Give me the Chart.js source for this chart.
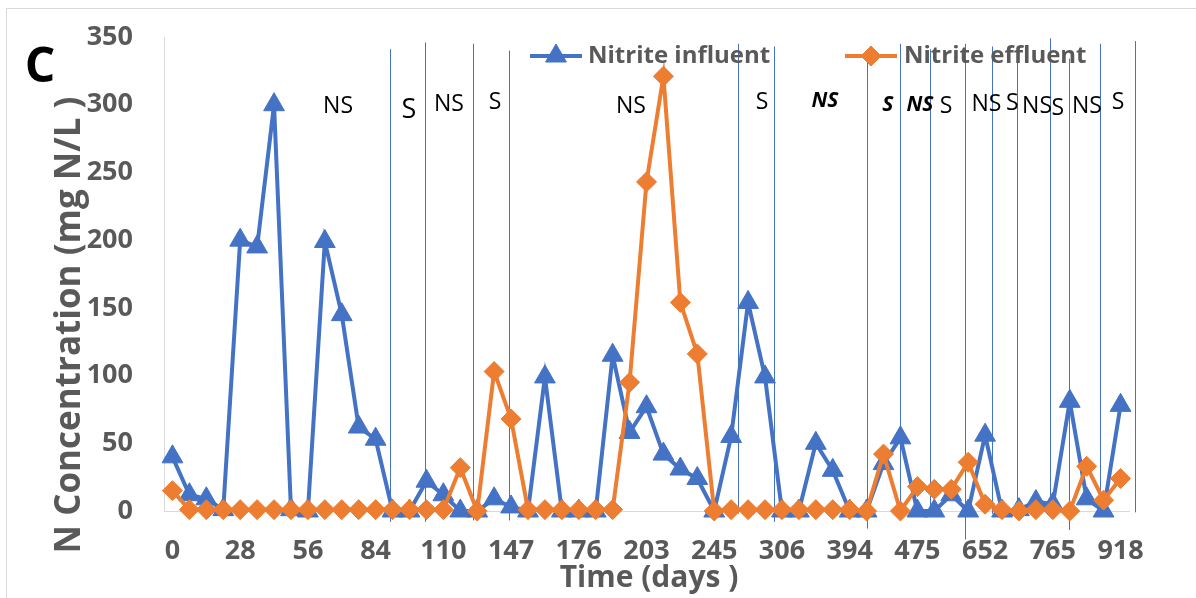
<!DOCTYPE html>
<html><head><meta charset="utf-8">
<script src="https://cdn.jsdelivr.net/npm/chart.js@4.4.1/dist/chart.umd.min.js"></script>
<style>html,body{margin:0;padding:0;background:#fff;overflow:hidden}#wrap{width:1196px;height:598px;position:relative}</style>
</head><body><div id="wrap"><canvas id="c" width="1196" height="598"></canvas></div>
<script>
// ---- data ----
const tickLabels = ['0','28','56','84','110','147','176','203','245','306','394','475','652','765','918'];
const influent = [40,12,9,1,200,195,300,1,0,199,145,62,53,0,0,22,12,0,0,9,3,0,99,0,0,0,115,58,77,42,31,24,0,55,154,99,0,0,50,30,0,0,35,54,0,0,12,0,56,0,1,7,5,81,9,0,78];
const effluent = [15,1,1,1,1,1,1,1,1,1,1,1,1,1,1,1,1,32,0,103,68,1,1,1,1,1,1,95,243,321,154,116,0,1,1,1,1,1,1,1,1,0,42,0,18,16,16,36,5,1,0,1,1,0,33,8,24];
// phase boundaries (category index, top value, bottom value)
const boundaryIdx = [12.82,14.90,17.73,19.88,33.40,35.51,41.02,42.97,44.74,46.81,48.38,49.88,51.83,52.95,54.79,56.85];
const boundaryTop = [341,346,345,340,345,343,336,345,341,345,343,341,349,334,345,347];
const boundaryBottom = [-8,-8,-7,-7,-2,-8,-13,-3,-1,-21,-2,-1,1,-14,1,-1];
// phase labels (text, category index, value)
const phaseText = ['NS','S','NS','S','NS','S','NS','S','NS','S','NS','S','NS','S','NS','S'];
const phaseIdx = [9.78,13.97,16.33,19.05,27.08,34.82,38.54,42.26,44.15,45.69,48.08,49.6,51.07,52.3,54.02,55.85];
const phaseVal = [299,296,300,302,299,302,303,300,300,299,300,301,299,297,299,302];
const phaseEmph = [false,false,false,false,false,false,true,true,true,false,false,false,false,false,false,false];

const categories = influent.map((_, i) => (i % 4 === 0 ? tickLabels[i / 4] : ''));

const BLUE = '#4472C4', ORANGE = '#ED7D31', GREY = '#595959';
const FONT = "'Open Sans', 'DejaVu Sans', sans-serif";

const decor = {
  id: 'decor',
  beforeDraw(chart) {
    const ctx = chart.ctx;
    ctx.save();
    ctx.fillStyle = '#fff';
    ctx.fillRect(0, 0, chart.width, chart.height);
    ctx.strokeStyle = '#d9d9d9';
    ctx.lineWidth = 1;
    ctx.strokeRect(6.5, 8.5, 1400, 800);
    ctx.restore();
  },
  beforeDatasetsDraw(chart) {
    const ctx = chart.ctx, xs = chart.scales.x, ys = chart.scales.y;
    ctx.save();
    ctx.strokeStyle = BLUE;
    ctx.lineWidth = 1;
    boundaryIdx.forEach((b, i) => {
      const px = Math.round(xs.getPixelForValue(b)) + 0.5;
      ctx.beginPath();
      ctx.moveTo(px, ys.getPixelForValue(boundaryTop[i]));
      ctx.lineTo(px, ys.getPixelForValue(boundaryBottom[i]));
      ctx.stroke();
    });
    ctx.fillStyle = '#000';
    ctx.textAlign = 'center';
    ctx.textBaseline = 'middle';
    phaseText.forEach((t, i) => {
      ctx.font = phaseEmph[i] ? `italic bold 21px ${FONT}` : (i === 1 ? `27px ${FONT}` : `23px ${FONT}`);
      ctx.fillText(t, xs.getPixelForValue(phaseIdx[i]), ys.getPixelForValue(phaseVal[i]));
    });
    ctx.restore();
  },
  afterDraw(chart) {
    const ctx = chart.ctx;
    const legendPos = [{x: 530, tx: 588}, {x: 845, tx: 904}];
    const order = [1, 0];
    ctx.save();
    order.forEach((di, k) => {
      const d = chart.data.datasets[di];
      const p = legendPos[k], y = 56;
      ctx.strokeStyle = d.borderColor;
      ctx.lineWidth = 4;
      ctx.beginPath(); ctx.moveTo(p.x, y); ctx.lineTo(p.x + 52, y); ctx.stroke();
      ctx.fillStyle = d.pointBackgroundColor;
      ctx.strokeStyle = d.pointBorderColor;
      ctx.lineWidth = 1;
      Chart.helpers.drawPoint(ctx, {pointStyle: d.pointStyle, radius: d.pointRadius, borderWidth: 1, rotation: 0}, p.x + 26, y);
      ctx.fillStyle = GREY;
      ctx.font = `bold 24px ${FONT}`;
      ctx.textAlign = 'left';
      ctx.textBaseline = 'middle';
      ctx.fillText(d.label, p.tx, y);
    });
    ctx.fillStyle = GREY;
    ctx.textAlign = 'center';
    ctx.textBaseline = 'middle';
    ctx.font = `bold 30px ${FONT}`;
    ctx.fillText('Time (days )', 649, 578);
    ctx.save();
    ctx.translate(70, 325);
    ctx.rotate(-Math.PI / 2);
    ctx.font = `bold 35px ${FONT}`;
    ctx.fillText('N Concentration (mg N/L )', 0, 0);
    ctx.restore();
    ctx.fillStyle = '#000';
    ctx.font = `bold 48px ${FONT}`;
    ctx.fillText('C', 40, 68);
    ctx.restore();
  }
};

new Chart(document.getElementById('c'), {
  type: 'line',
  data: {
    labels: categories,
    datasets: [
      {label: 'Nitrite effluent', data: effluent, order: 0, borderColor: ORANGE, backgroundColor: ORANGE,
       pointBackgroundColor: ORANGE, pointBorderColor: ORANGE, pointStyle: 'rectRot', pointRadius: 10, pointBorderWidth: 1,
       borderWidth: 4, tension: 0, clip: false},
      {label: 'Nitrite influent', data: influent, order: 1, borderColor: BLUE, backgroundColor: BLUE,
       pointBackgroundColor: BLUE, pointBorderColor: BLUE, pointStyle: 'triangle', pointRadius: 12, pointBorderWidth: 1,
       borderWidth: 4, tension: 0, clip: false}
    ]
  },
  options: {
    responsive: false,
    animation: false,
    devicePixelRatio: 1,
    layout: {padding: {top: 37, right: 67, left: 0, bottom: 0}},
    plugins: {legend: {display: false}, tooltip: {enabled: false}, title: {display: false}},
    scales: {
      x: {
        type: 'category', offset: true,
        grid: {display: false, drawTicks: false},
        border: {display: true, color: '#d9d9d9', width: 1},
        ticks: {autoSkip: false, maxRotation: 0, minRotation: 0, padding: 24, color: GREY,
                font: {family: FONT, size: 27, weight: 'bold'}},
        afterFit(s) { s.height = 87; s.paddingLeft = 0; s.paddingRight = 0; }
      },
      y: {
        min: 0, max: 350,
        grid: {display: false, drawTicks: false},
        border: {display: true, color: '#d9d9d9', width: 1},
        ticks: {stepSize: 50, padding: 31, color: GREY, font: {family: FONT, size: 27, weight: 'bold'}},
        afterFit(s) { s.width = 164; s.paddingTop = 0; s.paddingBottom = 0; }
      }
    }
  },
  plugins: [decor]
});
</script>
</body></html>
